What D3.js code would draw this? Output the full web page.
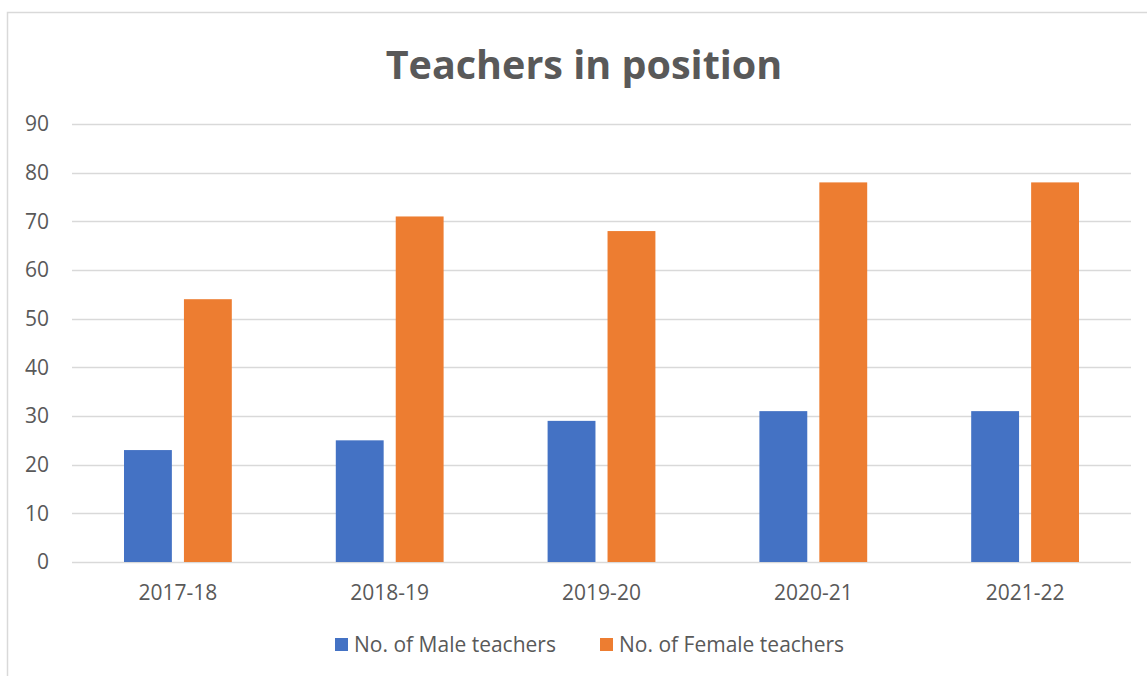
<!DOCTYPE html>
<html>
<head>
<meta charset="utf-8">
<script src="https://cdn.jsdelivr.net/npm/d3@7"></script>
<style>
  body { margin: 0; background: #fff; }
  text { font-family: "Open Sans", sans-serif; fill: #595959; }
</style>
</head>
<body>
<div class="container"></div>
<script>
// chart data
var years = ["2017-18", "2018-19", "2019-20", "2020-21", "2021-22"];
var maleTeachers = [23, 25, 29, 31, 31];
var femaleTeachers = [54, 71, 68, 78, 78];
var seriesNames = ["No. of Male teachers", "No. of Female teachers"];
var yTicks = [0, 10, 20, 30, 40, 50, 60, 70, 80, 90];

var width = 1147;
var height = 676;
var colors = ["#4472C4", "#ED7D31"];

var svg = d3.select(".container")
  .append("svg")
  .attr("width", width)
  .attr("height", height);

// chart area border (runs off the right and bottom of the picture)
svg.append("rect")
  .attr("x", 7.5).attr("y", 12.5)
  .attr("width", 1160).attr("height", 700)
  .attr("fill", "none")
  .attr("stroke", "#D9D9D9")
  .attr("stroke-width", 1.5);

var plot = { left: 72, right: 1131, top: 124, bottom: 562 };

var x = d3.scaleBand()
  .domain(years)
  .range([plot.left, plot.right]);

var y = d3.scaleLinear()
  .domain([0, 90])
  .range([plot.bottom, plot.top]);

// gridlines
svg.append("g")
  .selectAll("line")
  .data(yTicks)
  .enter().append("line")
  .attr("x1", plot.left)
  .attr("x2", plot.right)
  .attr("y1", function (d) { return Math.round(y(d)) + 0.5; })
  .attr("y2", function (d) { return Math.round(y(d)) + 0.5; })
  .attr("stroke", "#D9D9D9")
  .attr("stroke-width", 1.5);

// y axis labels
svg.append("g")
  .selectAll("text")
  .data(yTicks)
  .enter().append("text")
  .attr("x", 49)
  .attr("y", function (d) { return y(d); })
  .attr("dy", "0.35em")
  .attr("text-anchor", "end")
  .style("font-size", "21px")
  .text(function (d) { return d; });

// bars: width and gap as a share of the band
var barW = x.bandwidth() * 0.226;
var gap = x.bandwidth() * 0.057;
var series = [maleTeachers, femaleTeachers];

series.forEach(function (vals, i) {
  svg.append("g")
    .selectAll("rect")
    .data(vals)
    .enter().append("rect")
    .attr("x", function (d, j) {
      var c = x(years[j]) + x.bandwidth() / 2;
      return i === 0 ? c - gap / 2 - barW : c + gap / 2;
    })
    .attr("y", function (d) { return y(d); })
    .attr("width", barW)
    .attr("height", function (d) { return y(0) - y(d); })
    .attr("fill", colors[i]);
});

// category labels
svg.append("g")
  .selectAll("text")
  .data(years)
  .enter().append("text")
  .attr("x", function (d) { return x(d) + x.bandwidth() / 2; })
  .attr("y", 593)
  .attr("dy", "0.35em")
  .attr("text-anchor", "middle")
  .style("font-size", "21px")
  .text(function (d) { return d; });

// title
svg.append("text")
  .attr("x", 584)
  .attr("y", 79)
  .attr("text-anchor", "middle")
  .style("font-size", "39.5px")
  .style("font-weight", "bold")
  .text("Teachers in position");

// legend
var legendX = [335, 600];
var legend = svg.append("g")
  .selectAll("g")
  .data(seriesNames)
  .enter().append("g")
  .attr("transform", function (d, i) { return "translate(" + legendX[i] + ",645)"; });

legend.append("rect")
  .attr("x", 0).attr("y", -7)
  .attr("width", 13).attr("height", 13)
  .attr("fill", function (d, i) { return colors[i]; });

legend.append("text")
  .attr("x", 19)
  .attr("y", 0)
  .attr("dy", "0.35em")
  .style("font-size", "21px")
  .text(function (d) { return d; });
</script>
</body>
</html>
